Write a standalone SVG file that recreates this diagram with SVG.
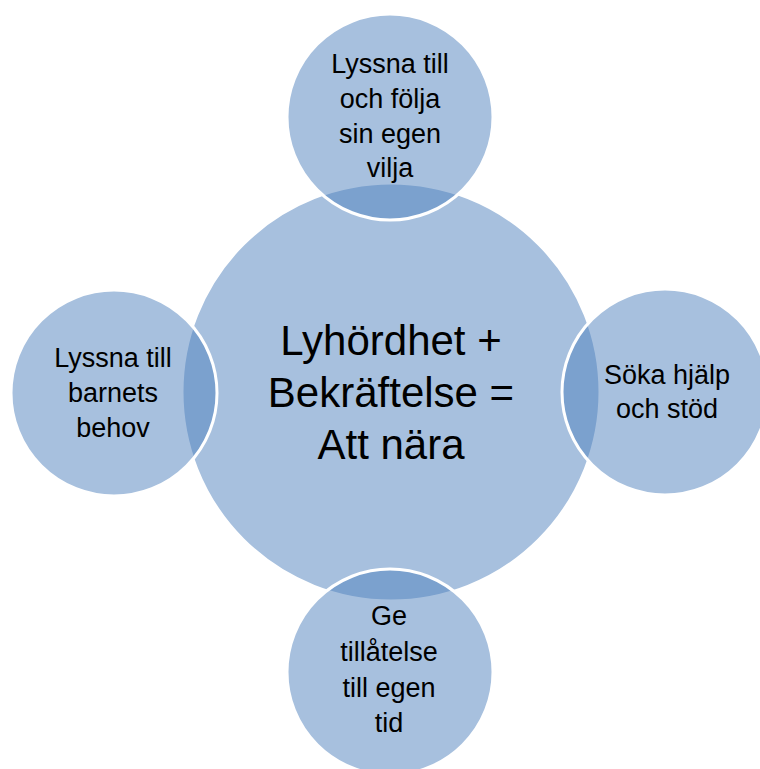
<svg xmlns="http://www.w3.org/2000/svg" width="760" height="769" viewBox="0 0 760 769">
<style>
.c{fill:#4F81BD;fill-opacity:0.5;stroke:#FFFFFF;stroke-width:3}
.t{font-family:"Liberation Sans",Arial,sans-serif;fill:#000000;text-anchor:middle}
.big{font-size:42px}
.sm{font-size:27px}
</style>
<rect width="760" height="769" fill="#FFFFFF"/>
<g id="connectors"/>
<g id="center">
<circle class="c" cx="391" cy="392" r="209"/>
<text class="t big" x="391" y="355">Lyhördhet +</text>
<text class="t big" x="391" y="407">Bekräftelse =</text>
<text class="t big" x="391" y="459">Att nära</text>
</g>
<g id="top">
<circle class="c" cx="390" cy="117" r="103"/>
<text class="t sm" x="390" y="73">Lyssna till</text>
<text class="t sm" x="390" y="108">och följa</text>
<text class="t sm" x="390" y="143">sin egen</text>
<text class="t sm" x="390" y="177">vilja</text>
</g>
<g id="right">
<circle class="c" cx="665" cy="392" r="103"/>
<text class="t sm" x="667" y="384">Söka hjälp</text>
<text class="t sm" x="667" y="418">och stöd</text>
</g>
<g id="bottom">
<circle class="c" cx="390" cy="672" r="103"/>
<text class="t sm" x="389" y="625">Ge</text>
<text class="t sm" x="389" y="661">tillåtelse</text>
<text class="t sm" x="389" y="697">till egen</text>
<text class="t sm" x="389" y="732">tid</text>
</g>
<g id="left">
<circle class="c" cx="114" cy="393" r="103"/>
<text class="t sm" x="113" y="367">Lyssna till</text>
<text class="t sm" x="113" y="402">barnets</text>
<text class="t sm" x="113" y="437">behov</text>
</g>
</svg>
